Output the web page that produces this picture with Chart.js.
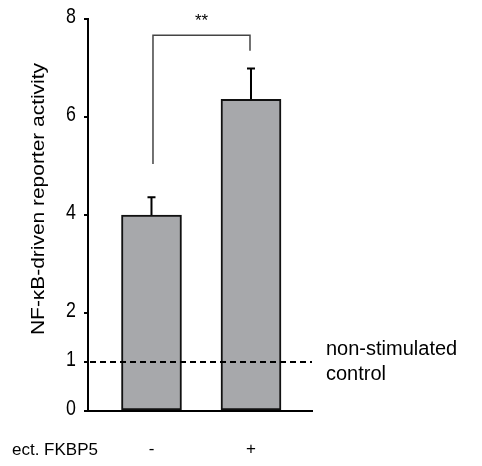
<!DOCTYPE html>
<html>
<head>
<meta charset="utf-8">
<script src="https://cdn.jsdelivr.net/npm/chart.js@4.4.1/dist/chart.umd.min.js"></script>
<style>
html,body{margin:0;padding:0;background:#fff;}
#wrap{width:482px;height:466px;}
</style>
</head>
<body>
<div id="wrap"><canvas id="c" width="482" height="466"></canvas></div>
<script>
// ---- data ----
const categories = ['-', '+'];
const groupLabel = 'ect. FKBP5';
const means = [4.0, 6.36];
const errors = [0.36, 0.63];
const yTickValues = [0, 1, 2, 4, 6, 8];
const controlLevel = 1;
const controlLabel = ['non-stimulated', 'control'];
const bracketLevels = [5.04, 7.67, 7.35]; // left foot, top, right foot
const significance = '**';
const yTitle = 'NF-\u03BAB-driven reporter activity';

const xPositions = categories.map((_, i) => i + 1);
const barData = xPositions.map((x, i) => ({x: x, y: means[i]}));

const textFont = "'Liberation Sans', Arial, sans-serif";

const annot = {
  id: 'annot',
  afterDatasetsDraw(chart) {
    const ctx = chart.ctx;
    const xs = chart.scales.x, ys = chart.scales.y;
    ctx.save();
    // y tick labels (narrow)
    ctx.fillStyle = '#000';
    ctx.font = '21px ' + textFont;
    ctx.textAlign = 'right';
    ctx.textBaseline = 'middle';
    yTickValues.forEach(v => {
      const py = ys.getPixelForValue(v);
      ctx.save();
      ctx.translate(76, py - 2);
      ctx.scale(0.85, 1.08);
      ctx.fillText(String(v), 0, 0);
      ctx.restore();
    });
    // error bars
    ctx.strokeStyle = '#000';
    ctx.lineWidth = 2;
    means.forEach((m, i) => {
      const px = xs.getPixelForValue(xPositions[i]);
      const y0 = ys.getPixelForValue(m);
      const y1 = ys.getPixelForValue(m + errors[i]);
      ctx.beginPath();
      ctx.moveTo(px, y0);
      ctx.lineTo(px, y1);
      ctx.moveTo(px - 4, y1);
      ctx.lineTo(px + 4, y1);
      ctx.stroke();
    });
    // control dashed line
    const yc = ys.getPixelForValue(controlLevel);
    ctx.setLineDash([6, 4]);
    ctx.beginPath();
    ctx.moveTo(xs.left + 2, yc);
    ctx.lineTo(xs.right, yc);
    ctx.stroke();
    ctx.setLineDash([]);
    // control label
    ctx.fillStyle = '#000';
    ctx.font = '20px ' + textFont;
    ctx.textAlign = 'left';
    ctx.textBaseline = 'middle';
    ctx.fillText(controlLabel[0], xs.right + 14, yc - 13);
    ctx.fillText(controlLabel[1], xs.right + 14, yc + 12);
    // bracket
    const bxL = xs.getPixelForValue(xPositions[0]) + 1.5;
    const bxR = xs.getPixelForValue(xPositions[1]) - 1;
    ctx.strokeStyle = '#444';
    ctx.lineWidth = 1.5;
    ctx.beginPath();
    ctx.moveTo(bxL, ys.getPixelForValue(bracketLevels[0]));
    ctx.lineTo(bxL, ys.getPixelForValue(bracketLevels[1]));
    ctx.lineTo(bxR, ys.getPixelForValue(bracketLevels[1]));
    ctx.lineTo(bxR, ys.getPixelForValue(bracketLevels[2]));
    ctx.stroke();
    ctx.fillStyle = '#000';
    ctx.font = '17px ' + textFont;
    ctx.textAlign = 'center';
    ctx.textBaseline = 'middle';
    ctx.fillText(significance, (bxL + bxR) / 2, ys.getPixelForValue(bracketLevels[1]) - 14);
    // group label
    ctx.textAlign = 'left';
    ctx.font = '17px ' + textFont;
    ctx.fillText(groupLabel, 12, 450);
    // y title
    ctx.save();
    ctx.translate(39, 199);
    ctx.rotate(-Math.PI / 2);
    ctx.textAlign = 'center';
    ctx.textBaseline = 'middle';
    ctx.font = '19px ' + textFont;
    const w = ctx.measureText(yTitle).width;
    ctx.scale(272 / w, 1);
    ctx.fillText(yTitle, 0, 0);
    ctx.restore();
    ctx.restore();
  }
};

new Chart(document.getElementById('c'), {
  type: 'bar',
  data: {
    datasets: [{
      data: barData,
      backgroundColor: '#a7a8ab',
      borderColor: '#111',
      borderWidth: 2,
      borderSkipped: false,
      barThickness: 60
    }]
  },
  options: {
    responsive: false,
    animation: false,
    events: [],
    layout: {padding: {top: 19, right: 170, left: 0, bottom: 0}},
    plugins: {legend: {display: false}, tooltip: {enabled: false}},
    scales: {
      x: {
        type: 'linear',
        offset: false,
        min: 0.362,
        max: 2.613,
        afterFit(s) { s.height = 55; },
        afterBuildTicks(s) { s.ticks = xPositions.map(v => ({value: v})); },
        grid: {display: false, drawTicks: false, offset: false},
        border: {display: true, color: '#000', width: 2},
        ticks: {
          callback(v) { const i = xPositions.indexOf(v); return i >= 0 ? categories[i] : ''; },
          color: '#000',
          font: {family: textFont, size: 17},
          padding: 28,
          maxRotation: 0,
          autoSkip: false
        }
      },
      y: {
        min: 0,
        max: 8,
        afterFit(s) { s.width = 88; },
        afterBuildTicks(s) { s.ticks = yTickValues.map(v => ({value: v})); },
        grid: {drawOnChartArea: false, drawTicks: true, tickLength: 4, color: '#000', lineWidth: 2},
        border: {display: true, color: '#000', width: 2},
        ticks: {display: false}
      }
    }
  },
  plugins: [annot]
});
</script>
</body>
</html>
